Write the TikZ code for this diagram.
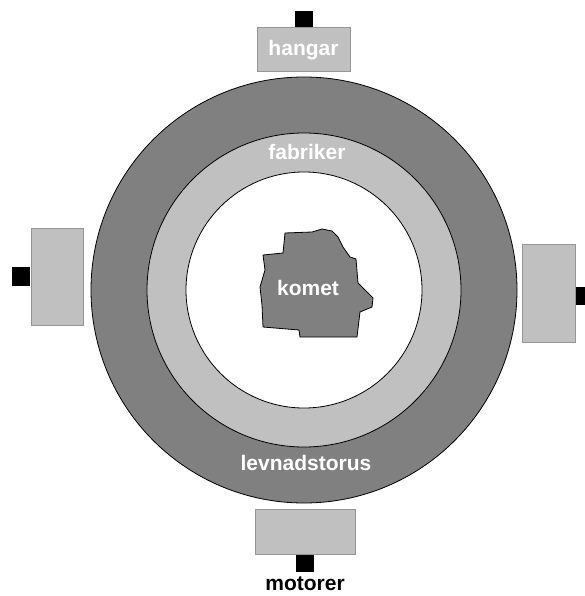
\documentclass[tikz,border=0pt]{standalone}
\usepackage{fontspec}
\setmainfont{Liberation Sans}
\usetikzlibrary{positioning}
\definecolor{torus}{RGB}{128,128,128}
\definecolor{ring}{RGB}{192,192,192}
\definecolor{edge}{RGB}{150,150,150}
\begin{document}
\begin{tikzpicture}[x=1pt,y=-1pt,
          label/.style={font=\fontsize{21}{21}\bfseries\selectfont,text=white,inner sep=0pt},
          module/.style={draw=edge,fill=ring,line width=1pt,inner sep=0pt},
          plug/.style={fill=black,inner sep=0pt}]
        \useasboundingbox (0,0) rectangle (584,596);
        % rings
        \filldraw[fill=torus,draw=black,line width=0.8pt] (304,290) circle[radius=213];
        \filldraw[fill=ring,draw=black,line width=0.8pt] (304,290) circle[radius=157];
        \filldraw[fill=white,draw=black,line width=0.8pt] (304,290) circle[radius=118];
        % komet
        \filldraw[fill=torus,draw=black,line width=0.8pt]
          (285,233) -- (312,232) -- (322,229) -- (332,231) -- (338,237) -- (343,247)
          -- (350,257) -- (356,259) -- (358,283) -- (365,290) -- (373,298) -- (372,307)
          -- (360,312) -- (357,337) -- (300,337) -- (299,330) -- (263,327) -- (262,305)
          -- (260,287) -- (265,270) -- (263,255) -- (283,253) -- cycle;
        \node[label] (komet) at (308,288) {komet};
        \node[label] (fabriker) at (307,152) {fabriker};
        \node[label] (torus) at (306,463) {levnadstorus};
        % modules
        \node[module,minimum width=93pt,minimum height=44pt] (hangar) at (303.5,50) {};
        \node[label] at (hangar) {hangar};
        \node[module,minimum width=52pt,minimum height=97pt] (west) at (57,276.5) {};
        \node[module,minimum width=53pt,minimum height=98pt] (east) at (548.5,293) {};
        \node[module,minimum width=100pt,minimum height=45pt] (motor) at (305,531.5) {};
        % plugs
        \node[plug,minimum width=18pt,minimum height=16pt,above=0pt of hangar] (ptop) {};
        \node[plug,minimum width=18pt,minimum height=19pt,left=0pt of west] (pwest) {};
        \node[plug,minimum width=18pt,minimum height=18pt,right=0pt of east,yshift=-3pt] (peast) {};
        \node[plug,minimum width=18pt,minimum height=17pt,below=0pt of motor] (pbottom) {};
        \node[label,text=black] (motorer) at (305,584) {motorer};
      \end{tikzpicture}
\end{document}
